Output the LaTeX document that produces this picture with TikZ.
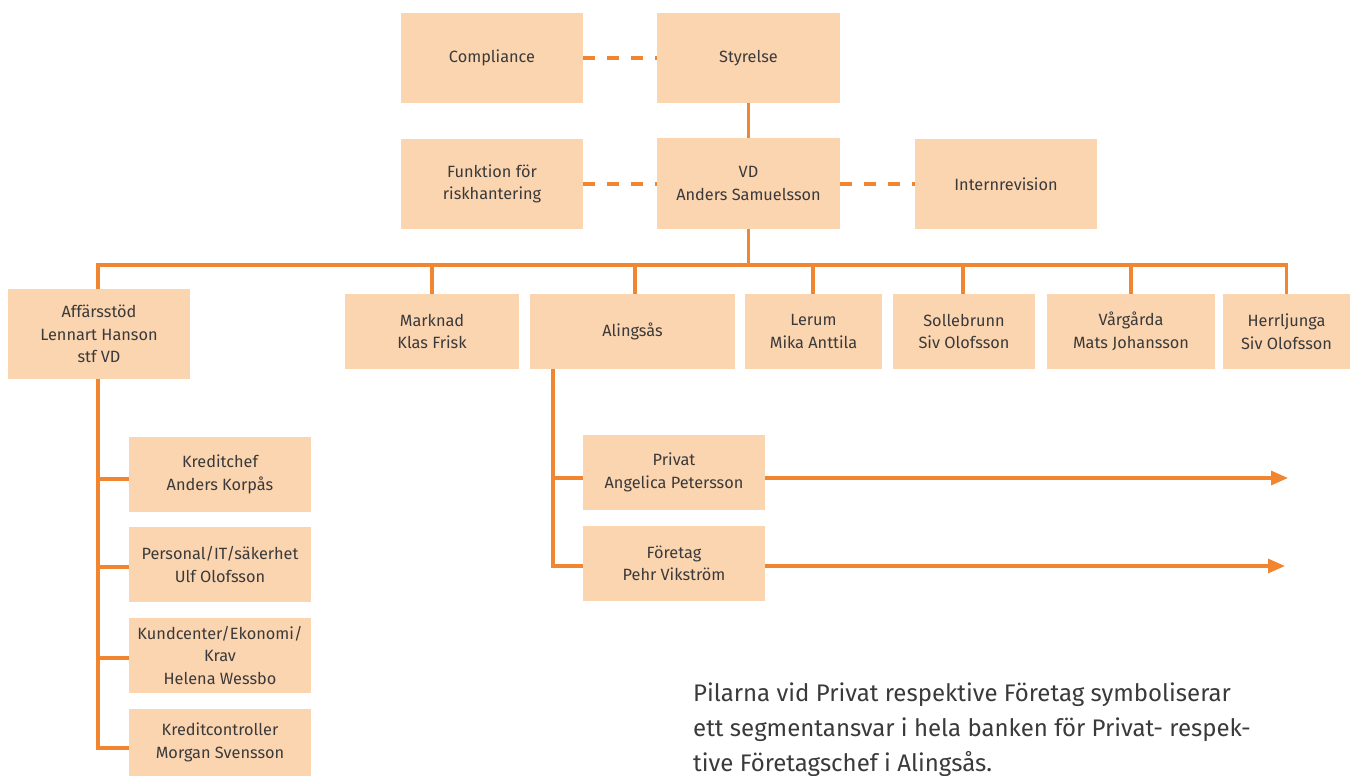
\documentclass[tikz,border=0pt]{standalone}
\usepackage{fontspec}
\setmainfont{Fira Sans}
\usetikzlibrary{arrows.meta}
\definecolor{boxfill}{HTML}{FBD4B0}
\definecolor{lineor}{HTML}{F28530}
\definecolor{txt}{HTML}{3A3A3A}
\tikzset{
  orgbox/.style={fill=boxfill, inner sep=0pt, align=center, text=txt,
    font=\fontsize{16.3}{22.5}\selectfont},
  conn/.style={draw=lineor, line width=3.2pt},
  dashconn/.style={draw=lineor, line width=3.2pt, dash pattern=on 12pt off 12pt},
}
\begin{document}
\begin{tikzpicture}[x=1pt,y=-1pt]
\useasboundingbox (0,0) rectangle (1354,776);
% top level
\node[orgbox, minimum width=182pt, minimum height=90pt] (comp) at (492,58) {Compliance};
\node[orgbox, minimum width=183pt, minimum height=90pt] (sty) at (748.5,58) {Styrelse};
\node[orgbox, minimum width=182pt, minimum height=90pt] (risk) at (492,184) {Funktion för\\riskhantering};
\node[orgbox, minimum width=183pt, minimum height=91pt] (vd) at (748.5,183.5) {VD\\Anders Samuelsson};
\node[orgbox, minimum width=182pt, minimum height=90pt] (int) at (1006,184) {Internrevision};
% second level
\node[orgbox, minimum width=182pt, minimum height=90pt] (aff) at (99,334) {Affärsstöd\\Lennart Hanson\\stf VD};
\node[orgbox, minimum width=174pt, minimum height=75pt] (mark) at (432,331.5) {Marknad\\Klas Frisk};
\node[orgbox, minimum width=205pt, minimum height=75pt] (aling) at (632.5,331.5) {Alingsås};
\node[orgbox, minimum width=137pt, minimum height=75pt] (lerum) at (813.5,331.5) {Lerum\\Mika Anttila};
\node[orgbox, minimum width=142pt, minimum height=75pt] (soll) at (964,331.5) {Sollebrunn\\Siv Olofsson};
\node[orgbox, minimum width=168pt, minimum height=75pt] (varg) at (1131,331.5) {Vårgårda\\Mats Johansson};
\node[orgbox, minimum width=127pt, minimum height=75pt] (herr) at (1286.5,331.5) {Herrljunga\\Siv Olofsson};
% Affärsstöd children
\node[orgbox, minimum width=182pt, minimum height=75pt] (kred) at (220,474.5) {Kreditchef\\Anders Korpås};
\node[orgbox, minimum width=182pt, minimum height=75pt] (pers) at (220,564.5) {Personal/IT/säkerhet\\Ulf Olofsson};
\node[orgbox, minimum width=182pt, minimum height=75pt] (kund) at (220,655.5) {Kundcenter/Ekonomi/\\Krav\\Helena Wessbo};
\node[orgbox, minimum width=182pt, minimum height=67pt] (kctrl) at (220,742.5) {Kreditcontroller\\Morgan Svensson};
% Alingsås children
\node[orgbox, minimum width=182pt, minimum height=75pt] (priv) at (674,472.5) {Privat\\Angelica Petersson};
\node[orgbox, minimum width=182pt, minimum height=75pt] (fore) at (674,563.5) {Företag\\Pehr Vikström};
% dashed
\draw[dashconn] (comp.east) -- (sty.west |- comp.east);
\draw[dashconn] (risk.east) -- (vd.west |- risk.east);
\draw[dashconn] (vd.east |- int.west) -- (int.west);
% solid tree
\draw[conn] (sty.south) -- (vd.north);
\coordinate (bus) at (748.5,265);
\draw[conn] (vd.south) -- (bus);
\draw[conn] (aff.north -| 98,0) |- (herr.north |- bus) -- (herr.north);
\foreach \n/\xx in {mark/432, aling/635, lerum/813, soll/963, varg/1131}
  \draw[conn] (\xx,265) -- (\n.north -| \xx,0);
% Affärsstöd branch
\coordinate (affb) at (98,748);
\draw[conn] (aff.south -| 98,0) -- (affb) -- (kctrl.west |- affb);
\draw[conn] (98,479) -- (kred.west |- 0,479);
\draw[conn] (98,567) -- (pers.west |- 0,567);
\draw[conn] (98,658) -- (kund.west |- 0,658);
% Alingsås branch
\coordinate (alb) at (553,566);
\draw[conn] (aling.south -| alb) -- (alb) -- (fore.west |- alb);
\draw[conn] (553,478) -- (priv.west |- 0,478);
\coordinate (pa) at (1288,478);
\coordinate (fa) at (1285,566);
\draw[conn, -{Triangle[length=17pt,width=14pt]}] (priv.east |- pa) -- (pa);
\draw[conn, -{Triangle[length=17pt,width=14pt]}] (fore.east |- fa) -- (fa);
% note
\node[anchor=north west, inner sep=0pt, align=left, text=txt,
  font=\fontsize{24}{35}\selectfont] (note) at (693,683)
  {Pilarna vid Privat respektive Företag symboliserar\\ett segmentansvar i hela banken för Privat- respek-\\tive Företagschef i Alingsås.};
\end{tikzpicture}
\end{document}
